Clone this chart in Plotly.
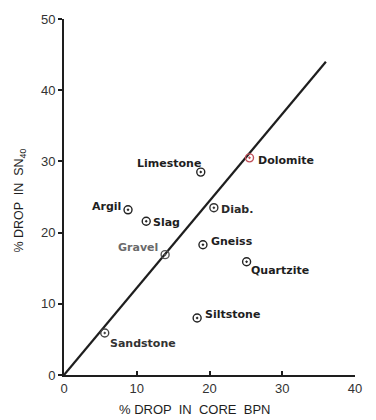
import plotly.graph_objects as go

# Rock types and their measured drops (%)
rocks = ["Limestone", "Argil", "Slag", "Gravel", "Gneiss", "Dolomite",
         "Diab.", "Quartzite", "Siltstone", "Sandstone"]
drop_core_bpn = [18.8, 8.8, 11.3, 13.9, 19.1, 25.5, 20.6, 25.1, 18.3, 5.6]
drop_sn40 = [28.5, 23.2, 21.6, 16.9, 18.3, 30.5, 23.5, 15.9, 8.0, 5.9]

# Trend line through the origin
trend_x = [0, 36]
trend_y = [0, 44]

x_ticks = [0, 10, 20, 30, 40]
y_ticks = [0, 10, 20, 30, 40, 50]

# Label placement: which side of the marker, and pixel nudges
label_side = ["right", "right", "left", "right", "left", "left",
              "left", "left", "left", "left"]
label_dx = [2, -5, 5, -5, 6, 6, 5, 2, 6, 3]
label_dy = [9, 3, -1, 7, 3, -3, -2, -9, 4, -11]
label_colors = ["#1e1e1e", "#1e1e1e", "#1e1e1e", "#6a6a6a", "#1e1e1e",
                "#1e1e1e", "#2a2a2a", "#1e1e1e", "#1e1e1e", "#333333"]
marker_colors = ["#222", "#222", "#222", "#555", "#222", "#c0505a",
                 "#333", "#222", "#222", "#444"]

font_family = "Liberation Sans, Arial, sans-serif"
label_family = "DejaVu Sans, sans-serif"
ink = "#1e1e1e"

fig = go.Figure()

fig.add_trace(go.Scatter(
    x=trend_x, y=trend_y, mode="lines",
    line=dict(color=ink, width=2.2),
    hoverinfo="skip", showlegend=False,
))

fig.add_trace(go.Scatter(
    x=drop_core_bpn, y=drop_sn40, mode="markers",
    marker=dict(symbol="circle-open-dot", size=8,
                color=marker_colors, line=dict(width=1.4, color=marker_colors)),
    text=rocks, hoverinfo="text", showlegend=False,
))

annotations = []
for name, x, y, side, dx, dy, col in zip(rocks, drop_core_bpn, drop_sn40,
                                          label_side, label_dx, label_dy,
                                          label_colors):
    annotations.append(dict(
        text=name, x=x, y=y, xref="x", yref="y", showarrow=False,
        xanchor=side, yanchor="middle", xshift=dx, yshift=dy,
        font=dict(family=label_family, size=11, color=col, weight="bold"),
    ))

annotations += [
    dict(text="% DROP  IN  CORE  BPN", xref="paper", yref="paper",
         x=0.45, y=-0.07, xanchor="center", yanchor="top", showarrow=False,
         font=dict(family=font_family, size=13, color=ink)),
    dict(text="% DROP  IN  SN<sub>40</sub>", xref="paper", yref="paper",
         x=-0.151, y=0.49, xanchor="center", yanchor="middle", showarrow=False,
         textangle=-90,
         font=dict(family=font_family, size=12.5, color=ink)),
]

axis_common = dict(
    showgrid=False, zeroline=False, showline=True,
    linecolor=ink, linewidth=2, ticklen=4, tickwidth=1.5, tickcolor=ink,
    tickfont=dict(family=font_family, size=13, color="#333"),
)

fig.update_xaxes(range=[0, 40], tickvals=x_ticks, ticks="inside",
                 **axis_common)
fig.update_yaxes(range=[0, 50], tickvals=y_ticks, ticks="outside",
                 **axis_common)

fig.update_layout(
    width=376, height=420,
    margin=dict(l=64, r=21, t=13, b=45),
    paper_bgcolor="white", plot_bgcolor="white",
    annotations=annotations,
)

fig.write_html("out.html")
